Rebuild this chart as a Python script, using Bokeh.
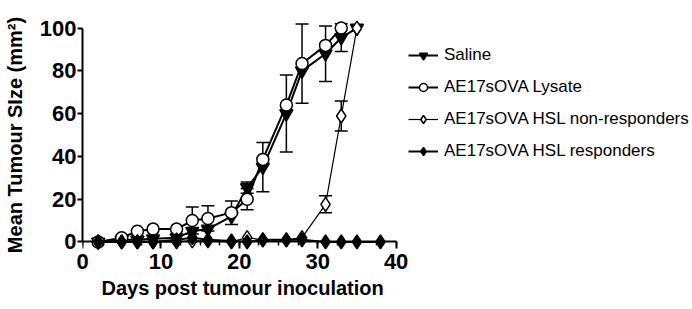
import numpy as np
from bokeh.plotting import figure
from bokeh.models import (ColumnDataSource, Range1d, SingleIntervalTicker, Whisker, TeeHead,
                          Legend, LegendItem, LinearAxis, Title)
from bokeh.embed import file_html
from bokeh.resources import INLINE

# ---- data ----
saline_days = [2, 5, 7, 9, 12, 14, 16, 19, 21, 23, 26, 28, 31, 33, 35]
saline_vals = [0, 1, 1, 1.5, 2, 5, 6, 12, 25.4, 35, 60, 80, 88, 95.5, 100]
saline_sem = [np.nan, np.nan, np.nan, np.nan, np.nan, np.nan, np.nan, np.nan, 2.6, 11.5, 18, np.nan, 13, 6.5, np.nan]

lysate_days = [2, 5, 7, 9, 12, 14, 16, 19, 21, 23, 26, 28, 31, 33]
lysate_vals = [0, 2, 5, 6, 6, 10, 11, 13.7, 20, 38.6, 64, 83.4, 91.9, 100]
lysate_sem = [np.nan, np.nan, np.nan, np.nan, np.nan, 6.3, 5.9, 5.5, 5, np.nan, np.nan, 18.5, np.nan, np.nan]

nonresp_days = [2, 5, 7, 9, 12, 14, 16, 19, 21, 23, 26, 28, 31, 33, 35]
nonresp_vals = [0, 0, 0, 0, 0, 0.5, 0.5, 0, 2, 1, 1, 2, 17.6, 58.9, 100]
nonresp_sem = [np.nan] * 12 + [4, 7, np.nan]

resp_days = [2, 5, 7, 9, 12, 14, 16, 19, 21, 23, 26, 28, 31, 33, 35, 38]
resp_vals = [0, 0, 0, 0, 1, 2, 1, 0.5, 0, 1, 1, 1, 0, 0, 0, 0]

labels = ["Saline", "AE17sOVA Lysate", "AE17sOVA HSL non-responders", "AE17sOVA HSL responders"]
x_title = "Days post tumour inoculation"
y_title = "Mean Tumour SIze (mm\u00b2)"
x_axis_max = 40
y_axis_max = 100
x_ticks_interval = 10
y_ticks_interval = 20

FONT = "Liberation Sans"

# frame spans to the right edge so the legend can sit inside it; axes are bounded to 0..40
p = figure(width=692, height=309, output_backend="svg", toolbar_location=None,
           x_range=Range1d(0, 77.8), y_range=Range1d(-4, 104),
           min_border_left=79, min_border_right=0, min_border_top=19, min_border_bottom=59)
p.grid.visible = False
p.outline_line_color = None
p.background_fill_color = "white"
p.border_fill_color = "white"

x_ticker = SingleIntervalTicker(interval=x_ticks_interval, num_minor_ticks=4)

# x axis line + ticks, fixed at y = 0
xa = p.xaxis[0]
xa.fixed_location = 0
xa.bounds = (0, x_axis_max)
xa.ticker = x_ticker
xa.axis_line_width = 2
xa.axis_line_color = "black"
xa.major_tick_line_width = 2
xa.major_tick_line_color = "black"
xa.major_tick_in = 0
xa.major_tick_out = 7
xa.minor_tick_out = 4
xa.minor_tick_in = 0
xa.minor_tick_line_width = 1.5
xa.minor_tick_line_color = "black"
xa.major_label_text_color = None

# x axis tick labels (separate axis, no line)
xb = LinearAxis(ticker=x_ticker, bounds=(0, x_axis_max), axis_line_color=None,
                major_tick_line_color=None, minor_tick_line_color=None,
                major_tick_out=0, major_tick_in=0, minor_tick_out=0, minor_tick_in=0,
                major_label_standoff=3)
p.add_layout(xb, "below")

# x axis title, placed under the 0..40 axis
xt = Title(text=x_title, align="left", offset=19, standoff=6,
           text_font=FONT, text_font_style="bold", text_font_size="20px", text_color="black")
p.add_layout(xt, "below")

ya = p.yaxis[0]
ya.bounds = (0, y_axis_max)
ya.ticker = SingleIntervalTicker(interval=y_ticks_interval, num_minor_ticks=0)
ya.axis_label = y_title
ya.axis_line_width = 2
ya.axis_line_color = "black"
ya.major_tick_line_width = 2
ya.major_tick_line_color = "black"
ya.major_tick_in = 0
ya.major_tick_out = 5
ya.minor_tick_line_color = None
ya.major_label_standoff = 1
ya.axis_label_standoff = 11

for ax in (xb, ya):
    ax.major_label_text_font = FONT
    ax.major_label_text_font_style = "bold"
    ax.major_label_text_font_size = "22px"
    ax.major_label_text_color = "black"
    ax.axis_label_text_font = FONT
    ax.axis_label_text_font_style = "bold"
    ax.axis_label_text_font_size = "20px"
    ax.axis_label_text_color = "black"


def err_source(days, vals, sem):
    d = [x for x, s in zip(days, sem) if not np.isnan(s)]
    lo = [v - s for v, s in zip(vals, sem) if not np.isnan(s)]
    hi = [v + s for v, s in zip(vals, sem) if not np.isnan(s)]
    return ColumnDataSource(dict(x=d, lo=lo, hi=hi))


for days, vals, sem in [(saline_days, saline_vals, saline_sem),
                        (lysate_days, lysate_vals, lysate_sem),
                        (nonresp_days, nonresp_vals, nonresp_sem)]:
    w = Whisker(source=err_source(days, vals, sem), base="x", lower="lo", upper="hi",
                line_color="black", line_width=1.5, level="underlay",
                upper_head=TeeHead(size=13, line_color="black", line_width=1.5),
                lower_head=TeeHead(size=13, line_color="black", line_width=1.5))
    p.add_layout(w)

items = []
specs = [
    (saline_days, saline_vals, "inverted_triangle", "black", 13, 2),
    (lysate_days, lysate_vals, "circle", "white", 12, 2),
    (nonresp_days, nonresp_vals, "diamond", "white", 14, 1.2),
    (resp_days, resp_vals, "diamond", "black", 14, 2),
]
for (days, vals, marker, fill, size, lw), lab in zip(specs, labels):
    src = ColumnDataSource(dict(x=days, y=vals))
    lr = p.line("x", "y", source=src, line_color="black", line_width=lw)
    sr = p.scatter("x", "y", source=src, marker=marker, size=size, fill_color=fill,
                   line_color="black", line_width=1.5)
    items.append(LegendItem(label=lab, renderers=[lr, sr]))

legend = Legend(items=items, location=(326, 89), padding=0, margin=0, spacing=12,
                glyph_width=30, glyph_height=20, label_height=20, label_standoff=6,
                border_line_color=None, background_fill_alpha=0,
                label_text_font=FONT, label_text_font_size="17px", label_text_color="black")
p.add_layout(legend)

open("out.html", "w").write(file_html(p, INLINE))
